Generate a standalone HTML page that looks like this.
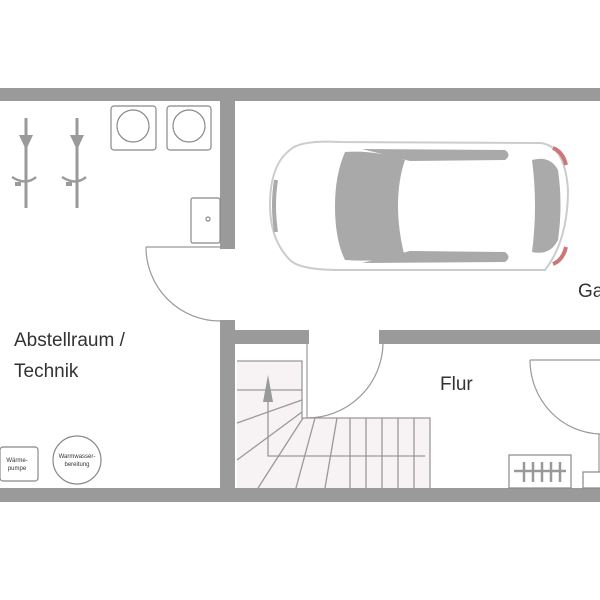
<!DOCTYPE html>
<html><head><meta charset="utf-8"><style>
html,body{margin:0;padding:0;background:#fff;}
svg{display:block;}
text{font-family:"Liberation Sans","DejaVu Sans",sans-serif;fill:#333;}
</style></head><body>
<svg width="600" height="600" viewBox="0 0 600 600" xmlns="http://www.w3.org/2000/svg">
<!-- stairs fill -->
<path d="M237 361 H302 V418 H430 V488 H237 Z" fill="#f7f2f3"/>
<g stroke="#999" stroke-width="1.3" fill="none">
<path d="M237 361 H302 V418 H430 V488"/>
<line x1="237" y1="390" x2="302" y2="390"/>
<line x1="302" y1="400" x2="237" y2="423"/>
<line x1="302" y1="412" x2="237" y2="460"/>
<line x1="303" y1="418" x2="258" y2="488"/>
<line x1="315" y1="418" x2="296" y2="488"/>
<line x1="337" y1="418" x2="325" y2="488"/>
<line x1="350" y1="418" x2="350" y2="488"/>
<line x1="366" y1="418" x2="366" y2="488"/>
<line x1="382" y1="418" x2="382" y2="488"/>
<line x1="398" y1="418" x2="398" y2="488"/>
<line x1="414" y1="418" x2="414" y2="488"/>
<path d="M425 456 H268 V395"/>
</g>
<polygon points="268,375 263,402 273,402" fill="#999"/>
<!-- doors -->
<g stroke="#999" stroke-width="1.2" fill="none">
<path d="M146 247 H220"/>
<path d="M146 247 A74 74 0 0 0 220 321"/>
<path d="M307 344 V418"/>
<path d="M383 344 A76 76 0 0 1 307 418"/>
<path d="M530 360 H600"/>
<path d="M530 360 A72 74 0 0 0 600 434"/>
<path d="M599 434 V488"/>
</g>
<!-- walls -->
<g fill="#9a9a9a">
<rect x="0" y="88" width="600" height="13"/>
<rect x="220" y="101" width="15" height="148"/>
<rect x="220" y="320" width="15" height="168"/>
<rect x="235" y="330" width="74" height="14"/>
<rect x="379" y="330" width="221" height="14"/>
<rect x="0" y="488" width="600" height="14"/>
</g>
<!-- washers -->
<g stroke="#888" stroke-width="1.2" fill="#fff">
<rect x="111" y="106" width="45" height="44" rx="3"/>
<rect x="167" y="106" width="44" height="44" rx="3"/>
<circle cx="133" cy="126" r="16"/>
<circle cx="189" cy="126" r="16"/>
<rect x="191" y="198" width="29" height="45" rx="2"/>
<circle cx="208" cy="219" r="2"/>
<rect x="509" y="455" width="62" height="33"/>
<rect x="583" y="472" width="20" height="16"/>
<rect x="0" y="447" width="38" height="34" rx="3"/>
<circle cx="77" cy="460" r="24"/>
</g>
<g stroke="#999" stroke-width="2.5">
<line x1="514" y1="471" x2="566" y2="471"/>
<line x1="524" y1="462" x2="524" y2="482"/><line x1="533" y1="462" x2="533" y2="482"/>
<line x1="542" y1="462" x2="542" y2="482"/><line x1="551" y1="462" x2="551" y2="482"/>
<line x1="560" y1="462" x2="560" y2="482"/>
</g>
<!-- shower fixtures -->
<g fill="#9a9a9a" stroke="#9a9a9a">
<line x1="26" y1="118" x2="26" y2="208" stroke-width="3"/>
<line x1="77" y1="118" x2="77" y2="208" stroke-width="3"/>
<polygon points="19,135 33,135 26,150" stroke="none"/>
<polygon points="70,135 84,135 77,150" stroke="none"/>
<path d="M12 177 Q26 186 36 177" fill="none" stroke-width="2.5"/>
<path d="M62 177 Q76 186 86 177" fill="none" stroke-width="2.5"/>
<rect x="15" y="182" width="6" height="4" stroke="none"/>
<rect x="66" y="182" width="6" height="4" stroke="none"/>
</g>
<!-- car -->
<g>
<path d="M290 150 Q300 140 340 142 L540 143 Q565 145 568 190 Q568 240 545 270 L340 270 Q300 270 290 260 Q270 240 270 205 Q270 165 290 150 Z" fill="#fff" stroke="#ccc" stroke-width="2"/>
<path d="M345 152 Q335 175 335 206 Q335 240 345 260 Q372 262 405 258 Q398 230 398 206 Q398 180 405 160 Q375 150 345 152 Z" fill="#a9a9a9"/>
<path d="M362 149 L505 150 Q512 155 505 160 L410 161 Z" fill="#a9a9a9"/>
<path d="M362 263 L505 262 Q512 257 505 252 L410 251 Z" fill="#a9a9a9"/>
<path d="M532 160 Q550 155 558 170 Q563 205 558 240 Q550 256 532 252 Q538 206 532 160 Z" fill="#aaa"/>
<path d="M553 148 Q563 152 566 165" stroke="#c77" stroke-width="4" fill="none"/>
<path d="M553 264 Q563 260 566 247" stroke="#c77" stroke-width="4" fill="none"/>
<path d="M276 180 Q272 205 276 232" stroke="#aaa" stroke-width="4" fill="none"/>
</g>
<!-- labels -->
<text x="14" y="346" font-size="19">Abstellraum /</text>
<text x="14" y="377" font-size="19">Technik</text>
<text x="440" y="390" font-size="19">Flur</text>
<text x="578" y="297" font-size="19">Ga</text>
<text x="17" y="462" font-size="6" text-anchor="middle">Wärme-</text>
<text x="17" y="470" font-size="6" text-anchor="middle">pumpe</text>
<text x="77" y="458" font-size="6" text-anchor="middle">Warmwasser-</text>
<text x="77" y="466" font-size="6" text-anchor="middle">bereitung</text>
</svg>
</body></html>
